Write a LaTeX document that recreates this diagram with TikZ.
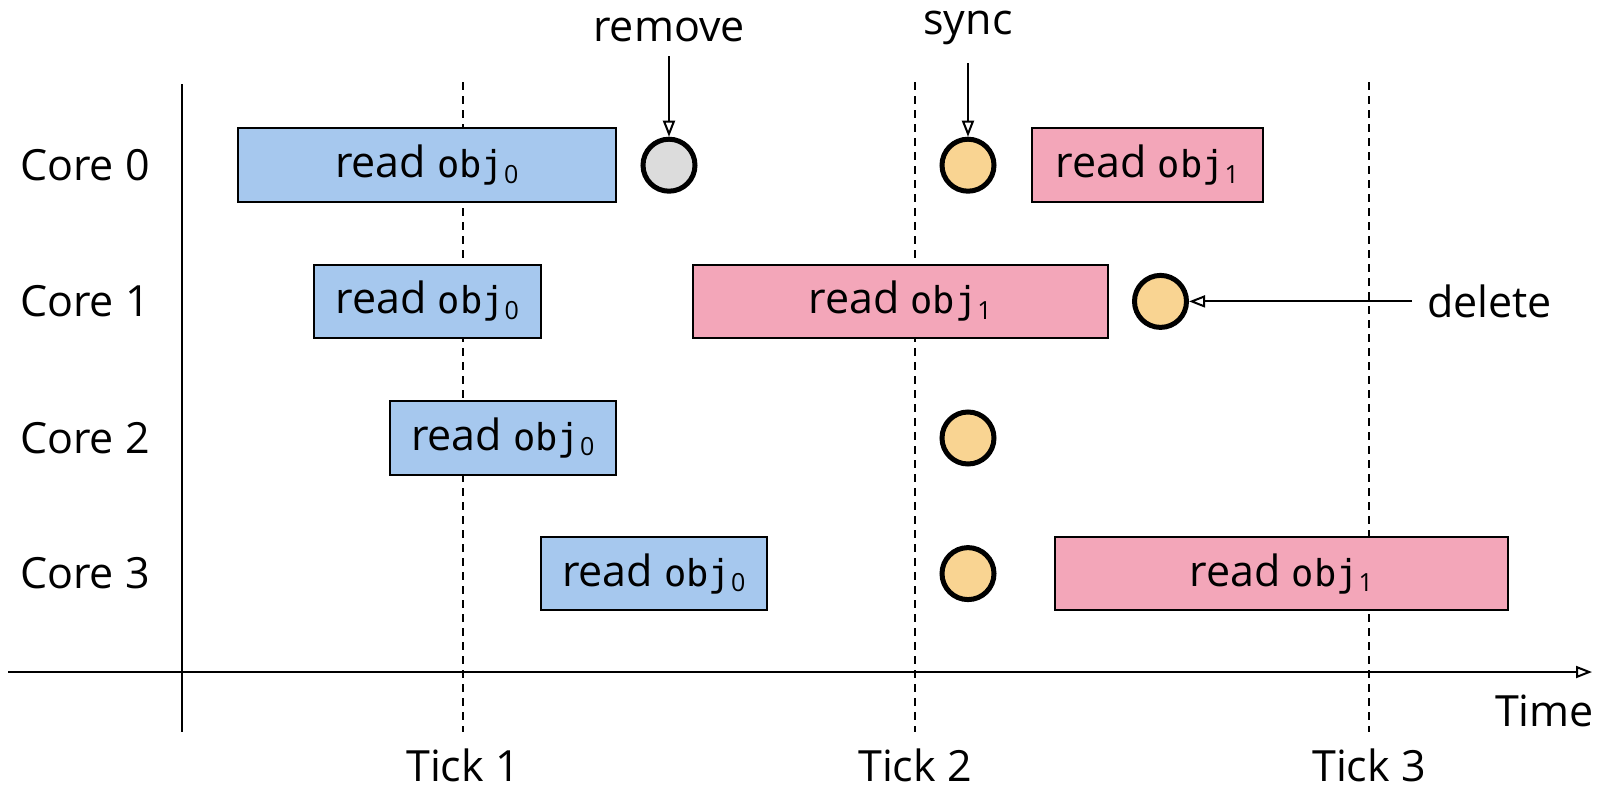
\documentclass[tikz,border=0pt]{standalone}
\usepackage{fontspec}
\setmainfont{Open Sans}
\newfontfamily\monof{DejaVu Sans Mono}
\usetikzlibrary{arrows.meta}
\definecolor{cblue}{RGB}{166,200,238}
\definecolor{cpink}{RGB}{243,166,185}
\definecolor{corange}{RGB}{249,212,146}
\definecolor{cgray}{RGB}{220,220,220}
\newcommand{\objname}[1]{{\fontsize{37}{44}\selectfont\monof obj}\raisebox{-5.5pt}{\fontsize{25}{28}\selectfont #1}}
\begin{document}
\begin{tikzpicture}[x=1pt,y=-1pt,
  bigfont/.style={font=\fontsize{43}{52}\selectfont},
  task/.style={draw, line width=2pt, minimum height=73.5pt, inner sep=0pt, bigfont},
  tblue/.style={task, fill=cblue},
  tpink/.style={task, fill=cpink},
  evt/.style={circle, draw, line width=5pt, minimum size=52pt, inner sep=0pt},
  evtorange/.style={evt, fill=corange},
  evtgray/.style={evt, fill=cgray},
  lbl/.style={inner sep=0pt, bigfont},
  tickline/.style={line width=2pt, dash pattern=on 8pt off 6pt},
  axis/.style={line width=2pt},
  arr/.style={line width=2pt, -{Triangle[open, length=16pt, width=12pt, line width=2pt]}}
]
\useasboundingbox (0,0) rectangle (1599,788);

% tick lines
\coordinate (t1top) at (463,82);  \coordinate (t1bot) at (463,732);
\coordinate (t2top) at (915,82);  \coordinate (t2bot) at (915,732);
\coordinate (t3top) at (1369,82); \coordinate (t3bot) at (1369,732);
\draw[tickline] (t1top) -- (t1bot);
\draw[tickline] (t2top) -- (t2bot);
\draw[tickline] (t3top) -- (t3bot);

% axes
\coordinate (yaxtop) at (181.5,84); \coordinate (yaxbot) at (181.5,732);
\draw[axis] (yaxtop) -- (yaxbot);
\coordinate (xaxl) at (8,672); \coordinate (xaxr) at (1592,672);
\draw[axis, -{Triangle[open, length=16pt, width=12pt, line width=2pt]}] (xaxl) -- (xaxr);

% core labels
\node[lbl, anchor=west] (core0) at (20,165.2) {Core 0};
\node[lbl, anchor=west] (core1) at (20,301.4) {Core 1};
\node[lbl, anchor=west] (core2) at (20,438) {Core 2};
\node[lbl, anchor=west] (core3) at (20,573.6) {Core 3};

% tick labels
\node[lbl, anchor=base] (tick1) at (463,781) {Tick 1};
\node[lbl, anchor=base] (tick2) at (915,781) {Tick 2};
\node[lbl, anchor=base] (tick3) at (1369,781) {Tick 3};
\node[lbl, anchor=east] (time) at (1594,711) {Time};

% tasks
\node[tblue, minimum width=378.4pt] (b0) at (426.8,165.2) {read \objname{0}};
\node[tpink, minimum width=230.5pt] (p0) at (1147.25,165.2) {read \objname{1}};
\node[tblue, minimum width=226.5pt] (b1) at (427.25,301.4) {read \objname{0}};
\node[tpink, minimum width=415pt] (p1) at (900,301.4) {read \objname{1}};
\node[tblue, minimum width=226.5pt] (b2) at (502.75,438) {read \objname{0}};
\node[tblue, minimum width=226.5pt] (b3) at (653.75,573.6) {read \objname{0}};
\node[tpink, minimum width=453.5pt] (p3) at (1281.25,573.6) {read \objname{1}};

% events
\node[evtgray] (e0a) at (669,165.2) {};
\node[evtorange] (e0b) at (968,165.2) {};
\node[evtorange] (e1) at (1160.5,301.4) {};
\node[evtorange] (e2) at (968,438) {};
\node[evtorange] (e3) at (968,573.6) {};

% annotations
\node[lbl, anchor=base] (remove) at (669,41) {remove};
\node[lbl, anchor=base] (sync) at (968,34) {sync};
\node[lbl, anchor=west] (delete) at (1427,301.4) {delete};
\draw[arr] ([yshift=-15pt]remove.base) -- (e0a.north);
\draw[arr] ([yshift=-29pt]sync.base) -- (e0b.north);
\draw[arr] ([xshift=-15pt]delete.west) -- (e1.east);
\end{tikzpicture}
\end{document}
